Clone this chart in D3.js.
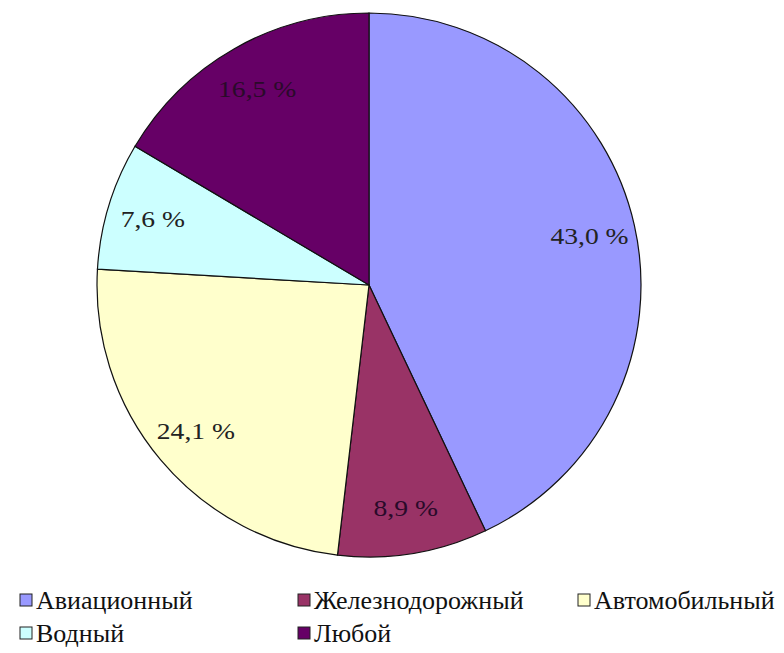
<!DOCTYPE html>
<html>
<head>
<meta charset="utf-8">
<script src="https://cdn.jsdelivr.net/npm/d3@7"></script>
<style>
  body { margin: 0; background: #fff; }
</style>
</head>
<body>
<div id="chart"></div>
<script>
var width = 784;
var height = 653;

// data
var categories = ["Авиационный", "Железнодорожный", "Автомобильный", "Водный", "Любой"];
var values = [43.0, 8.9, 24.1, 7.6, 16.5];
var labels = ["43,0 %", "8,9 %", "24,1 %", "7,6 %", "16,5 %"];
var colors = ["#9999ff", "#993366", "#ffffcc", "#ccffff", "#660066"];

var cx = 369, cy = 285, radius = 272;

var svg = d3.select("#chart")
    .append("svg")
    .attr("width", width)
    .attr("height", height)
    .attr("font-family", "'Liberation Serif', 'Times New Roman', serif");

var pie = d3.pie().sort(null).value(function(d) { return d; });
var arcs = pie(values);

var arc = d3.arc().innerRadius(0).outerRadius(radius);

var g = svg.append("g")
    .attr("transform", "translate(" + cx + "," + cy + ")");

g.selectAll("path")
    .data(arcs)
  .enter().append("path")
    .attr("d", arc)
    .attr("fill", function(d, i) { return colors[i]; })
    .attr("stroke", "#111")
    .attr("stroke-width", 1.2);

// labels, a bit wider than normal like the original
g.selectAll("text")
    .data(arcs)
  .enter().append("text")
    .attr("transform", function(d) {
      var a = (d.startAngle + d.endAngle) / 2;
      var r = 226;
      return "translate(" + (Math.sin(a) * r) + "," + (-Math.cos(a) * r) + ") scale(1.15,1)";
    })
    .attr("text-anchor", "middle")
    .attr("dy", "0.35em")
    .attr("font-size", 24)
    .attr("fill", function(d, i) { return i == 1 || i == 4 ? "#2a0a2a" : "#222"; })
    .text(function(d, i) { return labels[i]; });

// legend
var legendPos = [[20, 600], [298, 600], [578, 600], [20, 633], [298, 633]];

var legend = svg.selectAll(".legend")
    .data(categories)
  .enter().append("g")
    .attr("class", "legend")
    .attr("transform", function(d, i) { return "translate(" + legendPos[i][0] + "," + legendPos[i][1] + ")"; });

legend.append("rect")
    .attr("x", 0)
    .attr("y", -6)
    .attr("width", 12)
    .attr("height", 12)
    .attr("fill", function(d, i) { return colors[i]; })
    .attr("stroke", "#222")
    .attr("stroke-width", 1);

legend.append("text")
    .attr("x", 16)
    .attr("y", 0)
    .attr("dy", "0.35em")
    .attr("font-size", 26)
    .attr("fill", "#111")
    .text(function(d) { return d; });
</script>
</body>
</html>
